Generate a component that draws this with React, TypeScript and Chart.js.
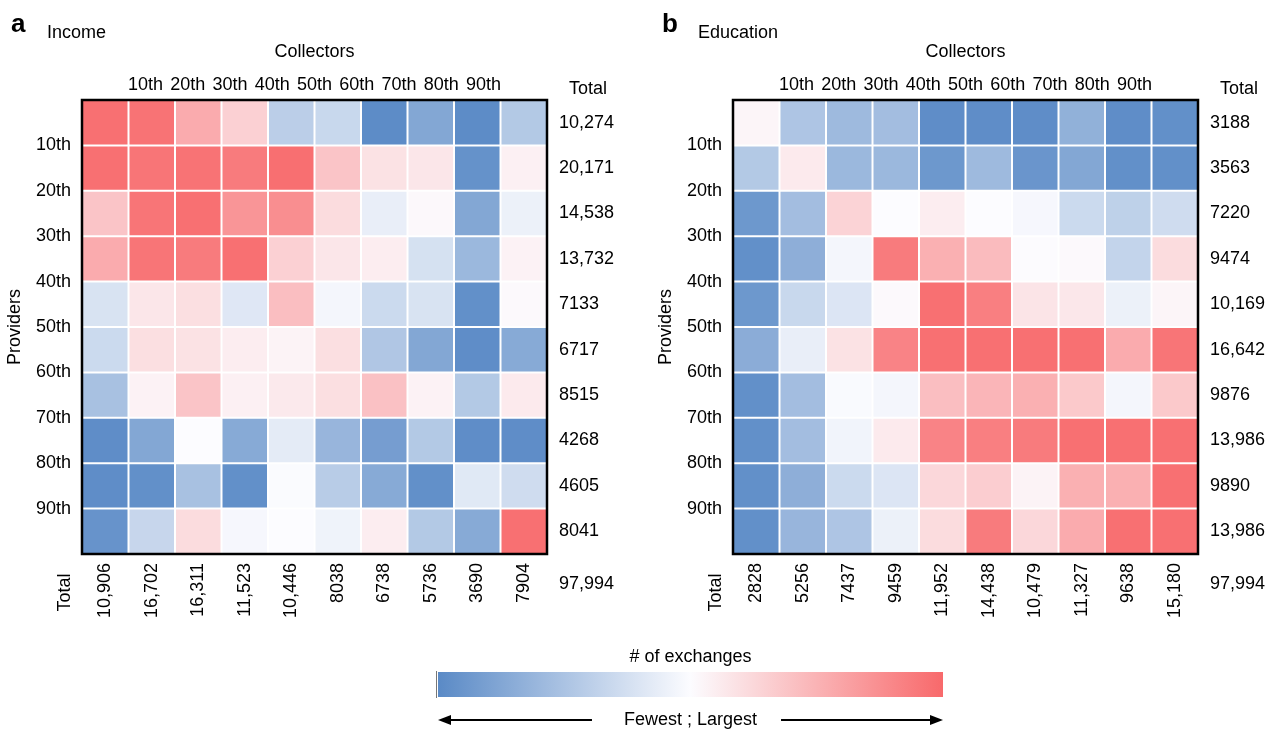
import React, { useEffect, useRef } from 'react';
import { Chart, registerables } from 'chart.js';

Chart.register(...registerables);

// ---------------- data ----------------
const percentileLabels = ['10th', '20th', '30th', '40th', '50th', '60th', '70th', '80th', '90th'];

const incomeRowTotals = ['10,274', '20,171', '14,538', '13,732', '7133', '6717', '8515', '4268', '4605', '8041'];
const incomeColTotals = ['10,906', '16,702', '16,311', '11,523', '10,446', '8038', '6738', '5736', '3690', '7904'];

const educationRowTotals = ['3188', '3563', '7220', '9474', '10,169', '16,642', '9876', '13,986', '9890', '13,986'];
const educationColTotals = ['2828', '5256', '7437', '9459', '11,952', '14,438', '10,479', '11,327', '9638', '15,180'];

const grandTotal = '97,994';

// position of each cell on the colour scale: -1 = fewest (blue), 0 = middle (white), +1 = largest (red)
// rows = providers (top to bottom), columns = collectors (left to right)
const incomeLevels = [
  [0.95, 0.93, 0.55, 0.3, -0.4, -0.32, -0.98, -0.75, -0.98, -0.45],
  [0.95, 0.92, 0.93, 0.88, 0.96, 0.38, 0.18, 0.15, -0.93, 0.08],
  [0.38, 0.92, 0.95, 0.7, 0.75, 0.22, -0.12, 0.03, -0.75, -0.1],
  [0.55, 0.92, 0.88, 0.95, 0.3, 0.15, 0.1, -0.24, -0.6, 0.07],
  [-0.22, 0.15, 0.2, -0.18, 0.42, -0.05, -0.3, -0.22, -0.95, 0.02],
  [-0.3, 0.2, 0.18, 0.1, 0.06, 0.2, -0.47, -0.75, -0.97, -0.72],
  [-0.52, 0.07, 0.38, 0.08, 0.13, 0.2, 0.4, 0.07, -0.45, 0.12],
  [-0.97, -0.75, 0.0, -0.72, -0.15, -0.62, -0.83, -0.45, -0.97, -0.97],
  [-0.97, -0.95, -0.52, -0.95, -0.01, -0.42, -0.72, -0.95, -0.17, -0.28],
  [-0.92, -0.33, 0.22, -0.04, 0.0, -0.08, 0.1, -0.45, -0.72, 0.95],
];

const educationLevels = [
  [0.05, -0.48, -0.58, -0.55, -0.97, -0.97, -0.97, -0.66, -0.97, -0.95],
  [-0.45, 0.12, -0.6, -0.6, -0.88, -0.58, -0.9, -0.75, -0.95, -0.95],
  [-0.88, -0.55, 0.28, 0.0, 0.1, 0.0, -0.04, -0.3, -0.38, -0.28],
  [-0.95, -0.68, -0.05, 0.88, 0.52, 0.44, 0.01, 0.02, -0.35, 0.22],
  [-0.88, -0.32, -0.2, 0.02, 0.95, 0.85, 0.16, 0.14, -0.1, 0.05],
  [-0.7, -0.12, 0.18, 0.82, 0.95, 0.95, 0.95, 0.95, 0.55, 0.92],
  [-0.95, -0.55, -0.02, -0.05, 0.42, 0.48, 0.52, 0.35, -0.05, 0.35],
  [-0.95, -0.55, -0.07, 0.12, 0.82, 0.85, 0.88, 0.95, 0.95, 0.95],
  [-0.95, -0.68, -0.3, -0.2, 0.25, 0.32, 0.06, 0.52, 0.52, 0.95],
  [-0.95, -0.62, -0.48, -0.1, 0.22, 0.88, 0.25, 0.55, 0.95, 0.95],
];

const colorbarStops = [-1, -0.5, 0, 0.5, 1];

// ---------------- styling ----------------
const FONT = '"Liberation Sans", Arial, Helvetica, sans-serif';
Chart.defaults.font.family = FONT;
Chart.defaults.font.size = 18;
Chart.defaults.color = '#000';

const LOW = [90, 138, 198];
const MID = [252, 252, 255];
const HIGH = [248, 105, 107];

function levelColor(v: number): string {
  const t = Math.min(1, Math.abs(v));
  const end = v < 0 ? LOW : HIGH;
  const c = MID.map((m, i) => Math.round(m + (end[i] - m) * t));
  return `rgb(${c[0]},${c[1]},${c[2]})`;
}

const hiddenGrid = { display: false, drawTicks: false };
const noBorder = { display: false };

type PanelProps = {
  left: number;
  width: number;
  letter: string;
  title: string;
  levels: number[][];
  rowTotals: string[];
  colTotals: string[];
  leftW: number;
  rightW: number;
  yTitlePad: number;
};

function HeatmapPanel(p: PanelProps) {
  const ref = useRef<HTMLCanvasElement>(null);
  useEffect(() => {
    if (!ref.current) return;
    const height = 640;
    const topH = 100;
    const bottomH = height - 554;

    const datasets = p.levels.map((row, r) => ({
      data: row.map(() => [r, r + 1]),
      backgroundColor: row.map(levelColor),
      borderColor: '#ffffff',
      borderWidth: 1,
      borderSkipped: false,
      grouped: false,
      barPercentage: 1,
      categoryPercentage: 1,
      inflateAmount: 0,
      xAxisID: 'x',
      yAxisID: 'y',
    }));

    const extras = {
      id: 'panelExtras',
      afterDraw(chart: any) {
        const { ctx, chartArea: a } = chart;
        ctx.save();
        ctx.strokeStyle = '#000';
        ctx.lineWidth = 2.5;
        ctx.strokeRect(a.left, a.top, a.right - a.left, a.bottom - a.top);

        ctx.fillStyle = '#000';
        ctx.textAlign = 'left';
        ctx.textBaseline = 'alphabetic';
        ctx.font = `bold 26px ${FONT}`;
        ctx.fillText(p.letter, a.left - 71, 32);
        ctx.font = `18px ${FONT}`;
        ctx.fillText(p.title, a.left - 35, 38);

        ctx.textBaseline = 'middle';
        ctx.fillText('Total', a.right + 22, a.top - 10.5);
        ctx.fillText(grandTotal, a.right + 12, a.bottom + 30);

        ctx.translate(a.left - 17, a.bottom + 38.5);
        ctx.rotate(-Math.PI / 2);
        ctx.textAlign = 'center';
        ctx.fillText('Total', 0, 0);
        ctx.restore();
      },
    };

    const chart = new Chart(ref.current, {
      type: 'bar',
      data: { labels: p.colTotals, datasets: datasets as any },
      options: {
        responsive: false,
        maintainAspectRatio: false,
        animation: false,
        layout: { padding: 0 },
        plugins: { legend: { display: false }, tooltip: { enabled: false } },
        scales: {
          x: {
            type: 'category',
            position: 'bottom',
            offset: true,
            grid: hiddenGrid,
            border: noBorder,
            ticks: { minRotation: 90, maxRotation: 90, autoSkip: false, padding: 9 },
            afterFit: (s: any) => { s.height = bottomH; },
          },
          xT: {
            type: 'linear',
            position: 'top',
            min: 0,
            max: 10,
            grid: hiddenGrid,
            border: noBorder,
            ticks: {
              stepSize: 1,
              autoSkip: false,
              padding: 4,
              callback: (v: any) => percentileLabels[Number(v) - 1] ?? '',
            },
            title: { display: true, text: 'Collectors', padding: { top: 41, bottom: 0 } },
            afterFit: (s: any) => { s.height = topH; },
          },
          y: {
            type: 'linear',
            position: 'left',
            min: 0,
            max: 10,
            reverse: true,
            grid: hiddenGrid,
            border: noBorder,
            ticks: {
              stepSize: 1,
              autoSkip: false,
              padding: 11,
              callback: (v: any) => percentileLabels[Number(v) - 1] ?? '',
            },
            title: { display: true, text: 'Providers', padding: { top: p.yTitlePad, bottom: 0 } },
            afterFit: (s: any) => { s.width = p.leftW; },
          },
          yR: {
            type: 'category',
            position: 'right',
            labels: p.rowTotals,
            offset: true,
            grid: hiddenGrid,
            border: noBorder,
            ticks: { autoSkip: false, padding: 12 },
            afterFit: (s: any) => { s.width = p.rightW; },
          },
        } as any,
      },
      plugins: [extras],
    });
    return () => chart.destroy();
  }, []);
  return (
    <canvas
      ref={ref}
      width={p.width}
      height={640}
      style={{ position: 'absolute', left: p.left, top: 0, width: p.width, height: 640 }}
    />
  );
}

function ColorBar() {
  const ref = useRef<HTMLCanvasElement>(null);
  useEffect(() => {
    if (!ref.current) return;
    const extras = {
      id: 'barExtras',
      afterDraw(chart: any) {
        const { ctx, chartArea: a } = chart;
        const cx = (a.left + a.right) / 2;
        ctx.save();
        ctx.strokeStyle = '#777';
        ctx.lineWidth = 1;
        ctx.beginPath();
        ctx.moveTo(a.left - 1.5, a.top - 1);
        ctx.lineTo(a.left - 1.5, a.bottom + 1);
        ctx.stroke();

        ctx.fillStyle = '#000';
        ctx.font = `18px ${FONT}`;
        ctx.textAlign = 'center';
        ctx.textBaseline = 'middle';
        ctx.fillText('# of exchanges', cx, a.top - 15);
        const label = 'Fewest ; Largest';
        const ty = a.bottom + 23;
        ctx.fillText(label, cx, ty);
        const tw = ctx.measureText(label).width;

        ctx.strokeStyle = '#000';
        ctx.lineWidth = 2;
        const l1 = cx - tw / 2 - 32;
        const r1 = cx + tw / 2 + 24;
        ctx.beginPath();
        ctx.moveTo(a.left + 8, ty);
        ctx.lineTo(l1, ty);
        ctx.moveTo(r1, ty);
        ctx.lineTo(a.right - 8, ty);
        ctx.stroke();
        ctx.beginPath();
        ctx.moveTo(a.left, ty);
        ctx.lineTo(a.left + 13, ty - 5);
        ctx.lineTo(a.left + 13, ty + 5);
        ctx.closePath();
        ctx.fill();
        ctx.beginPath();
        ctx.moveTo(a.right, ty);
        ctx.lineTo(a.right - 13, ty - 5);
        ctx.lineTo(a.right - 13, ty + 5);
        ctx.closePath();
        ctx.fill();
        ctx.restore();
      },
    };
    const chart = new Chart(ref.current, {
      type: 'bar',
      data: {
        labels: ['# of exchanges'],
        datasets: [
          {
            data: [[colorbarStops[0], colorbarStops[colorbarStops.length - 1]]] as any,
            backgroundColor: (c: any) => {
              const area = c.chart.chartArea;
              if (!area) return levelColor(0);
              const g = c.chart.ctx.createLinearGradient(area.left, 0, area.right, 0);
              const lo = colorbarStops[0];
              const hi = colorbarStops[colorbarStops.length - 1];
              colorbarStops.forEach((s) => g.addColorStop((s - lo) / (hi - lo), levelColor(s)));
              return g;
            },
            borderWidth: 0,
            barPercentage: 1,
            categoryPercentage: 1,
            inflateAmount: 0,
          },
        ],
      },
      options: {
        indexAxis: 'y',
        responsive: false,
        maintainAspectRatio: false,
        animation: false,
        layout: { padding: { left: 18, right: 17, top: 32, bottom: 33 } },
        plugins: { legend: { display: false }, tooltip: { enabled: false } },
        scales: {
          x: { type: 'linear', min: -1, max: 1, display: false },
          y: { type: 'category', display: false },
        },
      },
      plugins: [extras],
    });
    return () => chart.destroy();
  }, []);
  return (
    <canvas
      ref={ref}
      width={540}
      height={90}
      style={{ position: 'absolute', left: 420, top: 640, width: 540, height: 90 }}
    />
  );
}

export default function App() {
  useEffect(() => {
    document.body.style.margin = '0';
    document.body.style.background = '#fff';
  }, []);
  return (
    <div style={{ position: 'relative', width: 1266, height: 730, overflow: 'hidden', background: '#fff' }}>
      <HeatmapPanel
        left={0}
        width={640}
        letter="a"
        title="Income"
        levels={incomeLevels}
        rowTotals={incomeRowTotals}
        colTotals={incomeColTotals}
        leftW={82}
        rightW={93}
        yTitlePad={4}
      />
      <HeatmapPanel
        left={640}
        width={626}
        letter="b"
        title="Education"
        levels={educationLevels}
        rowTotals={educationRowTotals}
        colTotals={educationColTotals}
        leftW={93}
        rightW={68}
        yTitlePad={15}
      />
      <ColorBar />
    </div>
  );
}
